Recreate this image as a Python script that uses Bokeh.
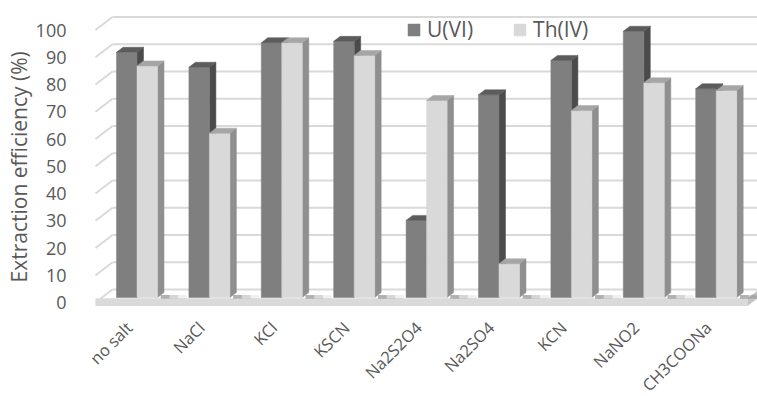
from math import pi

from bokeh.core.properties import value
from bokeh.embed import file_html
from bokeh.models import FixedTicker, Legend, LegendItem, Range1d, Title
from bokeh.plotting import figure
from bokeh.resources import INLINE

# ---- data -------------------------------------------------------------
salts = ["no salt", "NaCl", "KCl", "KSCN", "Na2S2O4", "Na2SO4", "KCN", "NaNO2", "CH3COONa"]
u_vi = [90, 84.5, 93.5, 94, 28.3, 74.4, 87, 97.7, 76.6]
th_iv = [85, 60.3, 93.5, 88.8, 72.3, 12.4, 68.6, 78.8, 76]
y_ticks = list(range(0, 101, 10))

# ---- oblique "3-D" geometry (pixel sizes turned into data units) --------
CAT_PX = 72.4          # pixels per category step
PCT_PX = 2.725         # pixels per percent
FRAME_LEFT, FRAME_W, FRAME_H = 80, 677, 396

X0 = -56.5 / CAT_PX                    # left edge of the frame in category units
Y0 = -94.0 / PCT_PX                    # bottom edge of the frame in percent
WALL_LEFT = -41.5 / CAT_PX             # front edge of the left wall
WALL_DX, WALL_DY = 17 / CAT_PX, 13 / PCT_PX   # depth of the floor / walls
BAR_DX, BAR_DY = 6.5 / CAT_PX, 5 / PCT_PX     # depth of a bar
BAR_LIFT = 5 / PCT_PX                  # bars stand a little behind the front edge
BAR_W = 20.5 / CAT_PX
FLOOR_RIGHT = 610.5 / CAT_PX
LABEL_DX, LABEL_Y = -8 / CAT_PX, -22 / PCT_PX  # anchor of the slanted category names

GRID = "#d9d9d9"
TEXT = "#595959"
FONT = "Open Sans"

p = figure(
    width=757, height=396,
    x_range=Range1d(X0, X0 + FRAME_W / CAT_PX),
    y_range=Range1d(Y0, Y0 + FRAME_H / PCT_PX),
    output_backend="svg", toolbar_location=None,
    min_border_left=FRAME_LEFT, min_border_right=0,
    min_border_top=0, min_border_bottom=0,
    outline_line_color=None,
)
p.xgrid.visible = False
p.ygrid.visible = False
p.xaxis.visible = False

# ---- walls and floor ----------------------------------------------------
x_right = X0 + FRAME_W / CAT_PX + 0.2
p.segment(x0=[WALL_LEFT + WALL_DX] * len(y_ticks), y0=[v + WALL_DY for v in y_ticks],
          x1=[x_right] * len(y_ticks), y1=[v + WALL_DY for v in y_ticks],
          line_color=GRID, line_width=2)
p.segment(x0=[WALL_LEFT] * len(y_ticks), y0=y_ticks,
          x1=[WALL_LEFT + WALL_DX] * len(y_ticks), y1=[v + WALL_DY for v in y_ticks],
          line_color=GRID, line_width=2)

# floor slab: front face and right side
p.patch(x=[WALL_LEFT, FLOOR_RIGHT, FLOOR_RIGHT, WALL_LEFT], y=[-1.3, -1.3, 1.6, 1.6],
        fill_color="#dadada", line_color=None)
p.patch(x=[FLOOR_RIGHT, FLOOR_RIGHT + WALL_DX, FLOOR_RIGHT + WALL_DX, FLOOR_RIGHT],
        y=[-1.3, -1.3 + WALL_DY, 1.6 + WALL_DY, 1.6],
        fill_color="#c4c4c4", line_color=None)

# soft shadows cast on the floor to the right of each pair of bars
n = len(salts)
for k, a in enumerate([0.25, 0.15, 0.08]):
    xs = []
    ys = []
    for i in range(n):
        xa = i + BAR_W + BAR_DX * 0.5
        xb = xa + 0.12 + 0.12 * k
        xs.append([xa, xb, xb, xa])
        ys.append([BAR_LIFT - 0.4, BAR_LIFT - 0.4, BAR_LIFT + 0.9, BAR_LIFT + 0.9])
    p.patches(xs=xs, ys=ys, fill_color="#404040", fill_alpha=a, line_color=None)


# ---- bars ---------------------------------------------------------------
def draw_series(values, offset, front, top, side):
    x0s = [i + offset for i in range(len(values))]
    x1s = [x + BAR_W for x in x0s]
    b = BAR_LIFT
    tops = [b + v for v in values]
    p.patches(
        xs=[[x1, x1 + BAR_DX, x1 + BAR_DX, x1] for x1 in x1s],
        ys=[[b, b + BAR_DY, t + BAR_DY, t] for t in tops],
        fill_color=side, line_color=side, line_width=0.5,
    )
    r = p.vbar(x=[x + BAR_W / 2 for x in x0s], width=BAR_W, bottom=b, top=tops,
               fill_color=front, line_color=front, line_width=0.5)
    p.patches(
        xs=[[x0, x1, x1 + BAR_DX, x0 + BAR_DX] for x0, x1 in zip(x0s, x1s)],
        ys=[[t, t, t + BAR_DY, t + BAR_DY] for t in tops],
        fill_color=top, line_color=top, line_width=0.5,
    )
    return r


r_u = draw_series(u_vi, -BAR_W, "#7f7f7f", "#5c5c5c", "#4b4b4b")
r_th = draw_series(th_iv, 0.0, "#d9d9d9", "#a6a6a6", "#8f8f8f")

# ---- category names, slanted under the floor ------------------------------
p.text(x=[i + LABEL_DX for i in range(n)], y=[LABEL_Y] * n, text=salts,
       angle=pi / 4, text_align="right", text_baseline="middle",
       text_font=value(FONT), text_font_size="16.5px", text_color=TEXT)

# ---- value axis ---------------------------------------------------------
p.yaxis.ticker = FixedTicker(ticks=y_ticks)
p.yaxis.axis_line_color = None
p.yaxis.major_tick_line_color = None
p.yaxis.minor_tick_line_color = None
p.yaxis.major_label_standoff = 8
p.yaxis.major_label_text_font = FONT
p.yaxis.major_label_text_font_size = "18px"
p.yaxis.major_label_text_color = TEXT

p.add_layout(Title(
    text="Extraction efficiency (%)", align="left", offset=114, standoff=0,
    text_font=FONT, text_font_size="21px", text_font_style="normal",
    text_color=TEXT,
), "left")

legend = Legend(
    items=[LegendItem(label="U(VI)", renderers=[r_u]),
           LegendItem(label="Th(IV)", renderers=[r_th])],
    orientation="horizontal", location=(326, 353),
    glyph_width=15, glyph_height=15, label_standoff=6, spacing=39,
    padding=0, margin=0, border_line_color=None, background_fill_alpha=0,
    label_text_font=FONT, label_text_font_size="21px", label_text_color=TEXT,
)
p.add_layout(legend, "center")

open("out.html", "w").write(file_html(p, INLINE))
